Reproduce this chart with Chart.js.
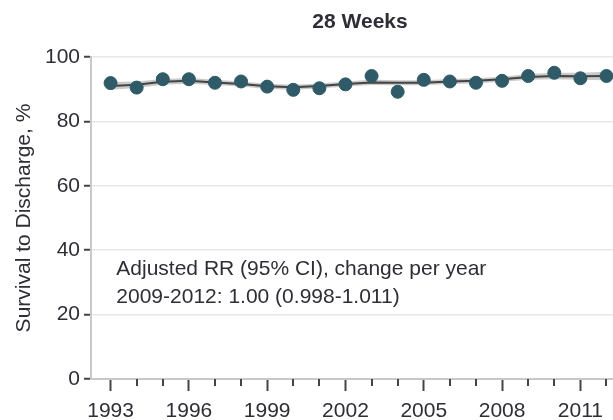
<!DOCTYPE html>
<html>
<head>
<meta charset="utf-8">
<script src="https://cdn.jsdelivr.net/npm/chart.js@4/dist/chart.umd.min.js"></script>
<style>
  html, body { margin: 0; padding: 0; background: #fff; }
  #wrap { width: 613px; height: 420px; }
</style>
</head>
<body>
<div id="wrap"><canvas id="chart" width="613" height="420"></canvas></div>
<script>
const years = [1993, 1994, 1995, 1996, 1997, 1998, 1999, 2000, 2001, 2002, 2003, 2004, 2005, 2006, 2007, 2008, 2009, 2010, 2011, 2012];
const survival = [91.9, 90.5, 93.1, 93.1, 92.0, 92.4, 90.8, 89.8, 90.3, 91.5, 94.1, 89.2, 92.9, 92.4, 92.0, 92.6, 94.1, 95.1, 93.4, 94.1];
const fitted = [91.0, 91.4, 92.3, 92.6, 92.1, 91.6, 90.9, 90.6, 91.0, 91.6, 92.1, 92.0, 92.0, 92.4, 92.6, 93.1, 93.8, 94.1, 94.0, 94.1];
const fitLower = [89.8, 90.4, 91.4, 91.7, 91.3, 90.8, 90.1, 89.8, 90.2, 90.8, 91.3, 91.2, 91.2, 91.6, 91.8, 92.3, 92.9, 93.1, 92.9, 92.8];
const fitUpper = [92.2, 92.4, 93.2, 93.5, 92.9, 92.4, 91.7, 91.4, 91.8, 92.4, 92.9, 92.8, 92.8, 93.2, 93.4, 93.9, 94.7, 95.1, 95.1, 95.4];
const xTicks = [1993, 1996, 1999, 2002, 2005, 2008, 2011];
const yTicks = [0, 20, 40, 60, 80, 100];
const titleText = "28 Weeks";
const noteLines = ["Adjusted RR (95% CI), change per year", "2009-2012: 1.00 (0.998-1.011)"];

const textColor = "#2e2e36";
const fontFamily = "'Liberation Sans', Arial, sans-serif";

const pairs = arr => years.map((y, i) => ({ x: y, y: arr[i] }));

// title, minor year ticks and the annotation text
const extras = {
    id: "extras",
    afterDraw(chart) {
        const ctx = chart.ctx;
        const xs = chart.scales.x;
        const ys = chart.scales.y;
        const bottom = chart.chartArea.bottom;
        ctx.save();
        ctx.strokeStyle = "#444";
        ctx.lineWidth = 2;
        years.forEach(yr => {
            if (xTicks.includes(yr)) return;
            const px = Math.round(xs.getPixelForValue(yr));
            ctx.beginPath();
            ctx.moveTo(px, bottom);
            ctx.lineTo(px, bottom + 7);
            ctx.stroke();
        });
        ctx.fillStyle = textColor;
        ctx.textBaseline = "middle";
        ctx.textAlign = "center";
        ctx.font = "bold 21px " + fontFamily;
        ctx.fillText(titleText, 360, 22);
        ctx.font = "21px " + fontFamily;
        ctx.textAlign = "left";
        const tx = xs.getPixelForValue(1993.22);
        ctx.fillText(noteLines[0], tx, ys.getPixelForValue(34.0));
        ctx.fillText(noteLines[1], tx, ys.getPixelForValue(25.4));
        ctx.restore();
    }
};

new Chart(document.getElementById("chart"), {
    type: "scatter",
    data: {
        datasets: [
            {
                type: "line",
                data: pairs(fitLower),
                borderWidth: 0,
                pointRadius: 0,
                fill: false,
                order: 5
            },
            {
                type: "line",
                data: pairs(fitUpper),
                borderWidth: 0,
                pointRadius: 0,
                backgroundColor: "rgba(150,150,150,0.5)",
                fill: "-1",
                order: 4
            },
            {
                type: "line",
                data: pairs(fitted),
                borderColor: "#444444",
                borderWidth: 2,
                pointRadius: 0,
                fill: false,
                order: 3
            },
            {
                data: pairs(survival),
                backgroundColor: "#2f5a67",
                borderColor: "#2f5a67",
                pointRadius: 6.5,
                order: 1
            }
        ]
    },
    options: {
        responsive: false,
        animation: false,
        devicePixelRatio: 1,
        layout: { autoPadding: false, padding: { left: 0, right: 0, top: 57, bottom: 0 } },
        plugins: {
            legend: { display: false },
            tooltip: { enabled: false },
            title: { display: false }
        },
        scales: {
            x: {
                type: "linear",
                min: 1992.25,
                max: 2012.25,
                afterBuildTicks: s => { s.ticks = xTicks.map(v => ({ value: v })); },
                afterFit: s => { s.height = 41; },
                grid: { drawOnChartArea: false, tickLength: 12, tickColor: "#444", tickWidth: 2 },
                border: { color: "#c8c8c8", width: 2 },
                ticks: {
                    color: textColor,
                    padding: 8,
                    maxRotation: 0,
                    autoSkip: false,
                    font: { family: fontFamily, size: 21 },
                    callback: v => String(v)
                }
            },
            y: {
                min: 0,
                max: 100,
                afterBuildTicks: s => { s.ticks = yTicks.map(v => ({ value: v })); },
                afterFit: s => { s.width = 91; },
                grid: { color: "#e8e8e8", lineWidth: 1.5, tickLength: 7, tickColor: "#444", tickWidth: 2 },
                border: { color: "#c8c8c8", width: 2 },
                title: {
                    display: true,
                    text: "Survival to Discharge, %",
                    color: textColor,
                    font: { family: fontFamily, size: 21 },
                    padding: { top: 12, bottom: 0 }
                },
                ticks: {
                    color: textColor,
                    padding: 4,
                    font: { family: fontFamily, size: 21 },
                    callback: v => String(v)
                }
            }
        }
    },
    plugins: [extras]
});
</script>
</body>
</html>
